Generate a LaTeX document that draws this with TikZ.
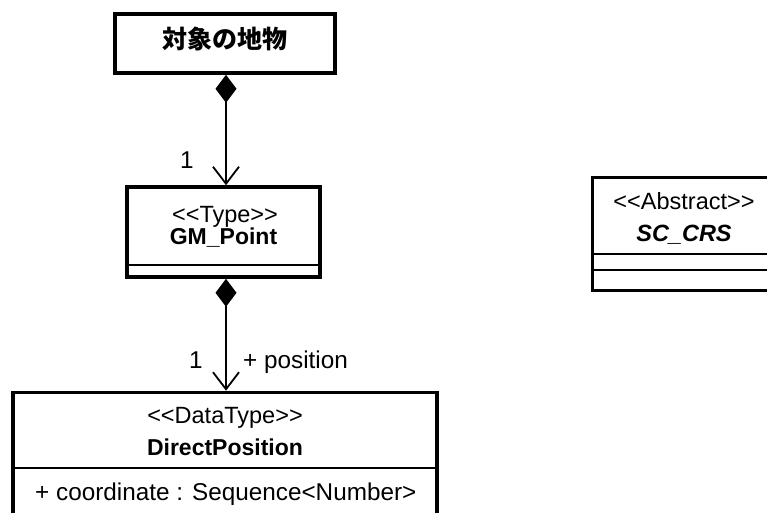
\documentclass[tikz,border=0pt]{standalone}
\usepackage{fontspec}
\newfontfamily\lsans{Liberation Sans}
\newfontfamily\jp{Noto Sans CJK JP}
\usetikzlibrary{arrows.meta}
\begin{document}
\begin{tikzpicture}[x=1pt,y=-1pt,
  umlbox/.style={draw=black, line width=3.6pt, fill=white, rectangle, inner sep=0pt},
  sepline/.style={line width=1.8pt},
  conn/.style={line width=1.8pt, {Diamond[length=28pt,width=21pt,fill=black]}-{Straight Barb[length=17pt,width=26pt]}},
  reg/.style={font=\lsans\fontsize{23.5}{28}\selectfont, inner sep=0pt, anchor=base},
  attr/.style={font=\lsans\fontsize{24.3}{28}\selectfont, inner sep=0pt, anchor=base},
  bld/.style={font=\lsans\fontsize{23}{28}\selectfont\bfseries, inner sep=0pt, anchor=base},
  bldit/.style={font=\lsans\fontsize{23.5}{28}\selectfont\bfseries\itshape, inner sep=0pt, anchor=base},
  jptext/.style={font=\jp\fontsize{25}{30}\selectfont\bfseries, inner sep=0pt, anchor=base}
]
\useasboundingbox (0,0) rectangle (767,512);
\clip (0,0) rectangle (767,512);
\fill[white] (0,0) rectangle (767,512);

% boxes
\node[umlbox, minimum width=220pt, minimum height=59pt] (obj) at (225,43.5) {};
\node[umlbox, minimum width=193pt, minimum height=90pt] (gm) at (223.5,232) {};
\node[umlbox, minimum width=183pt, minimum height=113pt] (sc) at (684,234) {};
\node[umlbox, minimum width=424pt, minimum height=137.5pt] (dp) at (225,461.25) {};

% compartment separators
\coordinate (gsep) at (0,265);
\coordinate (ssep1) at (0,254);
\coordinate (ssep2) at (0,270);
\coordinate (dsep) at (0,468);
\draw[sepline] (gm.west |- gsep) -- (gm.east |- gsep);
\draw[sepline] (sc.west |- ssep1) -- (sc.east |- ssep1);
\draw[sepline] (sc.west |- ssep2) -- (sc.east |- ssep2);
\draw[sepline] (dp.west |- dsep) -- (dp.east |- dsep);

% texts
\node[jptext] (objname) at (225,48) {対象の地物};
\node[reg] (gmst) at (225,222) {<<Type>>};
\node[bld] (gmname) at (223.5,244) {GM\_Point};
\node[reg] (scst) at (684,209) {<<Abstract>>};
\node[bldit] (scname) at (684,241) {SC\_CRS};
\node[reg] (dpst) at (225,423) {<<DataType>>};
\node[bld] (dpname) at (225,455) {DirectPosition};
\node[attr, anchor=base west] (dpattr) at (35,500) {+ coordinate : Sequence<Number>};

% connectors
\coordinate (ax) at (226,0);
\draw[conn] (obj.south -| ax) -- (gm.north -| ax);
\draw[conn] (gm.south -| ax) -- (dp.north -| ax);

% connector labels
\node[attr] (m1) at (187,168) {1};
\node[attr] (m2) at (196,368) {1};
\node[attr, anchor=base west] (role) at (243,368) {+ position};
\end{tikzpicture}
\end{document}
